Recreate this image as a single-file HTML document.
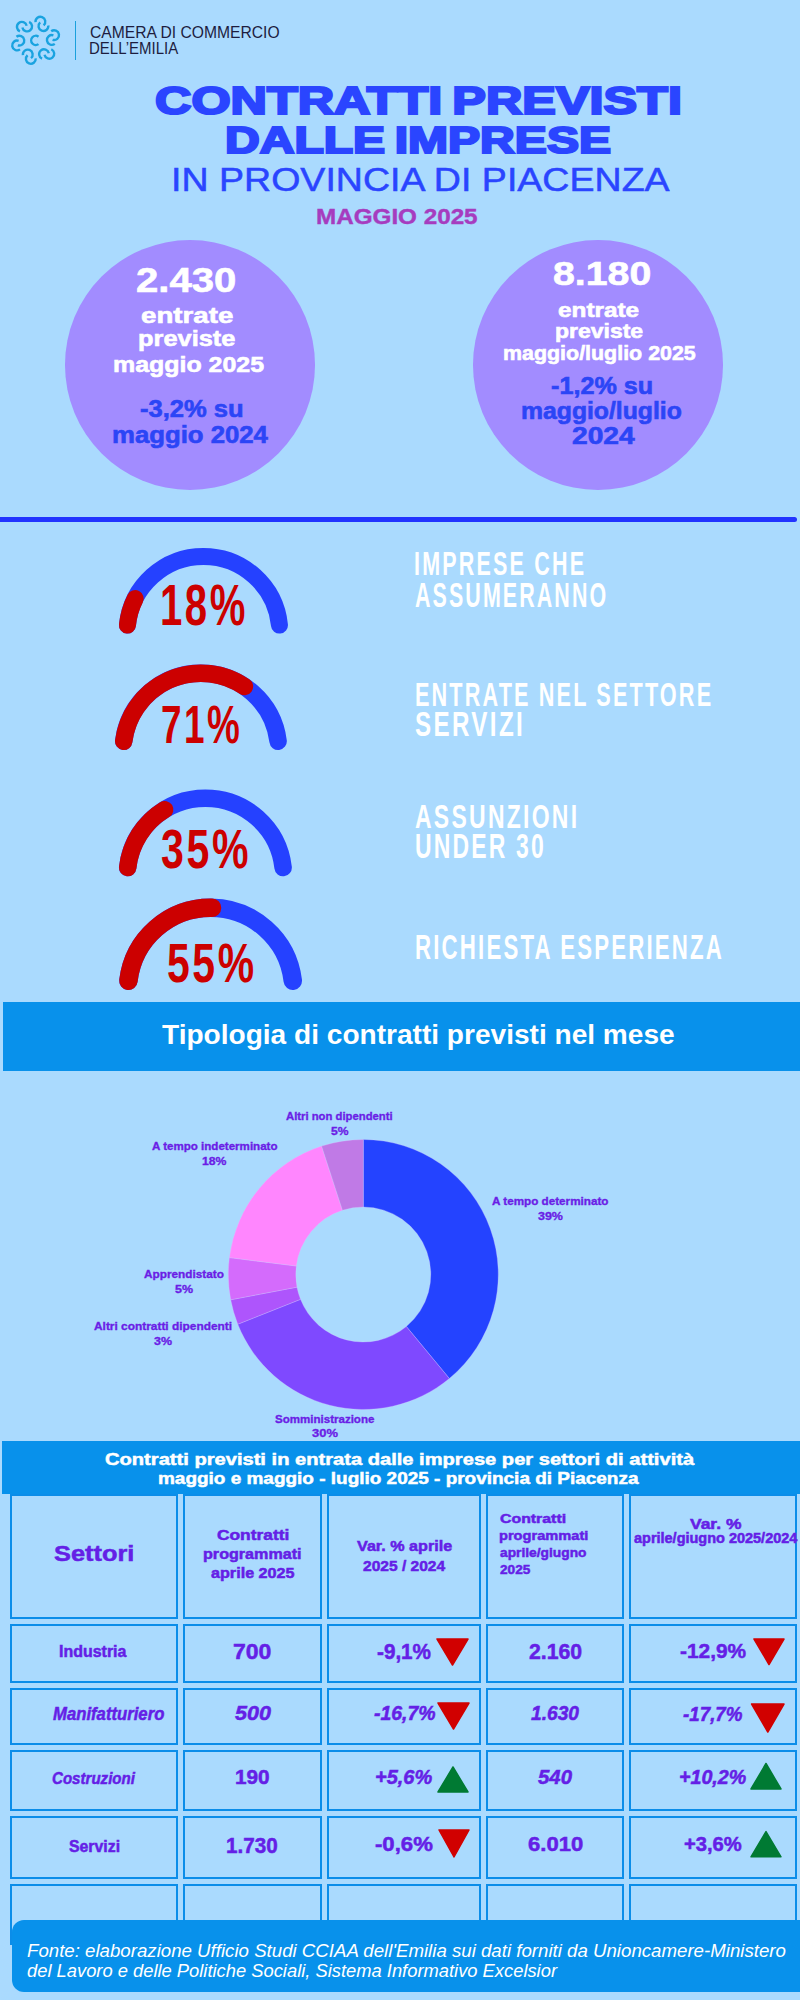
<!DOCTYPE html><html><head><meta charset="utf-8"><style>
html,body{margin:0;padding:0;}
body{width:800px;height:2000px;position:relative;overflow:hidden;background:#aadafe;font-family:"Liberation Sans",sans-serif;}
.t{position:absolute;white-space:nowrap;transform-origin:0 0;}
.a{position:absolute;}
</style></head><body><div class="t" style="left:89.72px;top:25.00px;font-size:15.94px;line-height:15.94px;font-weight:400;color:#1d1d3f;transform:scaleX(0.9820);">CAMERA DI COMMERCIO</div>
<div class="t" style="left:89.30px;top:40.00px;font-size:17.10px;line-height:17.10px;font-weight:400;color:#1d1d3f;transform:scaleX(0.8774);">DELL’EMILIA</div>
<div class="a" style="left:74.5px;top:20.5px;width:1.2px;height:39.5px;background:#1aa0dc"></div>
<svg class="a" style="left:0;top:0" width="80" height="80" viewBox="0 0 80 80"><path d="M38.50,44.12 A4.6,4.6 0 1 1 38.50,36.68" fill="none" stroke="#1aa3e0" stroke-width="2.4"/><g transform="translate(35.6,40.3) rotate(231) translate(17.6,0)"><path d="M-0.76,-6.55 A4.9,4.9 0 1 1 -0.76,2.15" fill="none" stroke="#1aa3e0" stroke-width="2.4"/><path d="M0.76,6.55 A4.9,4.9 0 1 1 0.76,-2.15" fill="none" stroke="#1aa3e0" stroke-width="2.4"/></g><g transform="translate(35.6,40.3) rotate(291) translate(17.6,0)"><path d="M-0.76,-6.55 A4.9,4.9 0 1 1 -0.76,2.15" fill="none" stroke="#1aa3e0" stroke-width="2.4"/><path d="M0.76,6.55 A4.9,4.9 0 1 1 0.76,-2.15" fill="none" stroke="#1aa3e0" stroke-width="2.4"/></g><g transform="translate(35.6,40.3) rotate(351) translate(17.6,0)"><path d="M-0.76,-6.55 A4.9,4.9 0 1 1 -0.76,2.15" fill="none" stroke="#1aa3e0" stroke-width="2.4"/><path d="M0.76,6.55 A4.9,4.9 0 1 1 0.76,-2.15" fill="none" stroke="#1aa3e0" stroke-width="2.4"/></g><g transform="translate(35.6,40.3) rotate(411) translate(17.6,0)"><path d="M-0.76,-6.55 A4.9,4.9 0 1 1 -0.76,2.15" fill="none" stroke="#1aa3e0" stroke-width="2.4"/><path d="M0.76,6.55 A4.9,4.9 0 1 1 0.76,-2.15" fill="none" stroke="#1aa3e0" stroke-width="2.4"/></g><g transform="translate(35.6,40.3) rotate(471) translate(17.6,0)"><path d="M-0.76,-6.55 A4.9,4.9 0 1 1 -0.76,2.15" fill="none" stroke="#1aa3e0" stroke-width="2.4"/><path d="M0.76,6.55 A4.9,4.9 0 1 1 0.76,-2.15" fill="none" stroke="#1aa3e0" stroke-width="2.4"/></g><g transform="translate(35.6,40.3) rotate(531) translate(17.6,0)"><path d="M-0.76,-6.55 A4.9,4.9 0 1 1 -0.76,2.15" fill="none" stroke="#1aa3e0" stroke-width="2.4"/><path d="M0.76,6.55 A4.9,4.9 0 1 1 0.76,-2.15" fill="none" stroke="#1aa3e0" stroke-width="2.4"/></g></svg>
<div class="t" style="left:154.91px;top:82.00px;font-size:38.84px;line-height:38.84px;font-weight:700;color:#2a45ff;transform:scaleX(1.2973);word-spacing:-3px;-webkit-text-stroke:2.2px #2a45ff;">CONTRATTI PREVISTI</div>
<div class="t" style="left:224.78px;top:122.00px;font-size:37.68px;line-height:37.68px;font-weight:700;color:#2a45ff;transform:scaleX(1.2756);word-spacing:-3px;-webkit-text-stroke:2.2px #2a45ff;">DALLE IMPRESE</div>
<div class="t" style="left:170.90px;top:163.00px;font-size:33.62px;line-height:33.62px;font-weight:400;color:#2a45ff;transform:scaleX(1.1171);-webkit-text-stroke:0.5px #2a45ff;">IN PROVINCIA DI PIACENZA</div>
<div class="t" style="left:315.65px;top:206.00px;font-size:21.59px;line-height:21.59px;font-weight:700;color:#a63cbf;transform:scaleX(1.1229);-webkit-text-stroke:0.4px #a63cbf;">MAGGIO 2025</div>
<div class="a" style="left:64.5px;top:240.3px;width:250px;height:249.5px;border-radius:50%;background:#a28cff"></div>
<div class="a" style="left:473.3px;top:240.3px;width:249.8px;height:249.5px;border-radius:50%;background:#a28cff"></div>
<div class="t" style="left:135.74px;top:263.00px;font-size:34.57px;line-height:34.57px;font-weight:700;color:#ffffff;transform:scaleX(1.1606);-webkit-text-stroke:0.6px #ffffff;">2.430</div>
<div class="t" style="left:140.97px;top:305.00px;font-size:22.00px;line-height:22.00px;font-weight:700;color:#ffffff;transform:scaleX(1.2583);-webkit-text-stroke:0.6px #ffffff;">entrate</div>
<div class="t" style="left:137.95px;top:328.00px;font-size:22.00px;line-height:22.00px;font-weight:700;color:#ffffff;transform:scaleX(1.1544);-webkit-text-stroke:0.6px #ffffff;">previste</div>
<div class="t" style="left:113.47px;top:354.00px;font-size:22.00px;line-height:22.00px;font-weight:700;color:#ffffff;transform:scaleX(1.1337);-webkit-text-stroke:0.6px #ffffff;">maggio 2025</div>
<div class="t" style="left:139.61px;top:398.00px;font-size:23.00px;line-height:23.00px;font-weight:700;color:#2b45f6;transform:scaleX(1.1099);-webkit-text-stroke:0.6px #2b45f6;">-3,2% su</div>
<div class="t" style="left:111.66px;top:424.00px;font-size:23.00px;line-height:23.00px;font-weight:700;color:#2b45f6;transform:scaleX(1.1189);-webkit-text-stroke:0.6px #2b45f6;">maggio 2024</div>
<div class="t" style="left:552.98px;top:257.00px;font-size:33.00px;line-height:33.00px;font-weight:700;color:#ffffff;transform:scaleX(1.1907);-webkit-text-stroke:0.6px #ffffff;">8.180</div>
<div class="t" style="left:558.39px;top:300.00px;font-size:20.00px;line-height:20.00px;font-weight:700;color:#ffffff;transform:scaleX(1.2158);-webkit-text-stroke:0.6px #ffffff;">entrate</div>
<div class="t" style="left:555.10px;top:321.00px;font-size:20.00px;line-height:20.00px;font-weight:700;color:#ffffff;transform:scaleX(1.1481);-webkit-text-stroke:0.6px #ffffff;">previste</div>
<div class="t" style="left:502.68px;top:343.00px;font-size:20.00px;line-height:20.00px;font-weight:700;color:#ffffff;transform:scaleX(1.0707);-webkit-text-stroke:0.6px #ffffff;">maggio/luglio 2025</div>
<div class="t" style="left:551.02px;top:375.00px;font-size:23.00px;line-height:23.00px;font-weight:700;color:#2b45f6;transform:scaleX(1.0946);-webkit-text-stroke:0.6px #2b45f6;">-1,2% su</div>
<div class="t" style="left:521.01px;top:400.00px;font-size:23.00px;line-height:23.00px;font-weight:700;color:#2b45f6;transform:scaleX(1.0759);-webkit-text-stroke:0.6px #2b45f6;">maggio/luglio</div>
<div class="t" style="left:572.08px;top:425.00px;font-size:23.00px;line-height:23.00px;font-weight:700;color:#2b45f6;transform:scaleX(1.2251);-webkit-text-stroke:0.6px #2b45f6;">2024</div>
<div class="a" style="left:-5px;top:517px;width:802px;height:5px;border-radius:2.5px;background:#2233ff"></div>
<div class="a" style="left:0;top:0;width:800px;height:2000px">
<svg class="a" style="left:0;top:0;overflow:visible" width="1" height="1"><path d="M127.45,625.05 A76.4,76.4 0 0 1 279.45,625.05" fill="none" stroke="#2541ff" stroke-width="17" stroke-linecap="round"/><path d="M127.45,625.05 A76.4,76.4 0 0 1 135.20,598.57" fill="none" stroke="#cc0000" stroke-width="17" stroke-linecap="round"/></svg>
<svg class="a" style="left:0;top:0;overflow:visible" width="1" height="1"><path d="M123.71,741.25 A77.8,77.8 0 0 1 278.09,741.25" fill="none" stroke="#2541ff" stroke-width="17.5" stroke-linecap="round"/><path d="M123.71,741.25 A77.8,77.8 0 0 1 244.41,686.50" fill="none" stroke="#cc0000" stroke-width="17.5" stroke-linecap="round"/></svg>
<svg class="a" style="left:0;top:0;overflow:visible" width="1" height="1"><path d="M127.70,867.55 A78.2,78.2 0 0 1 283.10,867.55" fill="none" stroke="#2541ff" stroke-width="17.5" stroke-linecap="round"/><path d="M127.70,867.55 A78.2,78.2 0 0 1 164.66,809.65" fill="none" stroke="#cc0000" stroke-width="17.5" stroke-linecap="round"/></svg>
<svg class="a" style="left:0;top:0;overflow:visible" width="1" height="1"><path d="M128.43,980.70 A82.75,82.75 0 0 1 292.77,980.70" fill="none" stroke="#2541ff" stroke-width="18.5" stroke-linecap="round"/><path d="M128.43,980.70 A82.75,82.75 0 0 1 212.04,907.76" fill="none" stroke="#cc0000" stroke-width="18.5" stroke-linecap="round"/></svg>
</div>
<div class="t" style="left:159.50px;top:578.00px;font-size:56.52px;line-height:56.52px;font-weight:700;color:#cc0000;transform:scaleX(0.7090);letter-spacing:3.6px;">18%</div>
<div class="t" style="left:161.28px;top:697.00px;font-size:54.20px;line-height:54.20px;font-weight:700;color:#cc0000;transform:scaleX(0.6803);letter-spacing:3.6px;">71%</div>
<div class="t" style="left:160.97px;top:822.00px;font-size:55.14px;line-height:55.14px;font-weight:700;color:#cc0000;transform:scaleX(0.7452);letter-spacing:3.6px;">35%</div>
<div class="t" style="left:166.97px;top:935.00px;font-size:56.09px;line-height:56.09px;font-weight:700;color:#cc0000;transform:scaleX(0.7292);letter-spacing:3.6px;">55%</div>
<div class="t" style="left:413.60px;top:547.00px;font-size:33.04px;line-height:33.04px;font-weight:700;color:#ffffff;transform:scaleX(0.6502);letter-spacing:3.4px;">IMPRESE CHE</div>
<div class="t" style="left:415.46px;top:577.00px;font-size:35.07px;line-height:35.07px;font-weight:700;color:#ffffff;transform:scaleX(0.6115);letter-spacing:3.4px;">ASSUMERANNO</div>
<div class="t" style="left:414.59px;top:677.00px;font-size:34.06px;line-height:34.06px;font-weight:700;color:#ffffff;transform:scaleX(0.6353);letter-spacing:3.4px;">ENTRATE NEL SETTORE</div>
<div class="t" style="left:415.27px;top:707.00px;font-size:34.78px;line-height:34.78px;font-weight:700;color:#ffffff;transform:scaleX(0.6954);letter-spacing:3.4px;">SERVIZI</div>
<div class="t" style="left:415.43px;top:799.00px;font-size:34.06px;line-height:34.06px;font-weight:700;color:#ffffff;transform:scaleX(0.6737);letter-spacing:3.4px;">ASSUNZIONI</div>
<div class="t" style="left:414.62px;top:829.00px;font-size:35.51px;line-height:35.51px;font-weight:700;color:#ffffff;transform:scaleX(0.6460);letter-spacing:3.4px;">UNDER 30</div>
<div class="t" style="left:414.55px;top:930.00px;font-size:34.78px;line-height:34.78px;font-weight:700;color:#ffffff;transform:scaleX(0.6395);letter-spacing:3.4px;">RICHIESTA ESPERIENZA</div>
<div class="a" style="left:2.5px;top:1002px;width:797.5px;height:69px;background:#0891eb"></div>
<div class="t" style="left:162.22px;top:1020.00px;font-size:28.26px;line-height:28.26px;font-weight:700;color:#ffffff;transform:scaleX(0.9936);">Tipologia di contratti previsti nel mese</div>
<div class="a" style="left:0;top:0;width:800px;height:2000px">
<svg class="a" style="left:0;top:0;overflow:visible" width="1" height="1"><path d="M363.30,1139.50 A135,135 0 0 1 449.35,1378.52 L406.33,1326.51 A67.5,67.5 0 0 0 363.30,1207.00Z" fill="#2443ff" stroke="#d8c8ff" stroke-width="0.3"/><path d="M449.35,1378.52 A135,135 0 0 1 237.78,1324.20 L300.54,1299.35 A67.5,67.5 0 0 0 406.33,1326.51Z" fill="#7f49ff" stroke="#d8c8ff" stroke-width="0.3"/><path d="M237.78,1324.20 A135,135 0 0 1 230.69,1299.80 L297.00,1287.15 A67.5,67.5 0 0 0 300.54,1299.35Z" fill="#ae55fc" stroke="#d8c8ff" stroke-width="0.3"/><path d="M230.69,1299.80 A135,135 0 0 1 229.36,1257.58 L296.33,1266.04 A67.5,67.5 0 0 0 297.00,1287.15Z" fill="#d46bfc" stroke="#d8c8ff" stroke-width="0.3"/><path d="M229.36,1257.58 A135,135 0 0 1 321.58,1146.11 L342.44,1210.30 A67.5,67.5 0 0 0 296.33,1266.04Z" fill="#ff86fe" stroke="#d8c8ff" stroke-width="0.3"/><path d="M321.58,1146.11 A135,135 0 0 1 363.30,1139.50 L363.30,1207.00 A67.5,67.5 0 0 0 342.44,1210.30Z" fill="#c07ae6" stroke="#d8c8ff" stroke-width="0.3"/></svg>
</div>
<div class="t" style="left:285.89px;top:1111.00px;font-size:11.20px;line-height:11.20px;font-weight:700;color:#6a1ee6;transform:scaleX(1.0089);-webkit-text-stroke:0.35px #6a1ee6;">Altri non dipendenti</div>
<div class="t" style="left:330.63px;top:1126.00px;font-size:11.20px;line-height:11.20px;font-weight:700;color:#6a1ee6;transform:scaleX(1.0805);-webkit-text-stroke:0.35px #6a1ee6;">5%</div>
<div class="t" style="left:152.14px;top:1141.00px;font-size:11.20px;line-height:11.20px;font-weight:700;color:#6a1ee6;transform:scaleX(1.0339);-webkit-text-stroke:0.35px #6a1ee6;">A tempo indeterminato</div>
<div class="t" style="left:202.46px;top:1156.00px;font-size:11.20px;line-height:11.20px;font-weight:700;color:#6a1ee6;transform:scaleX(1.0918);-webkit-text-stroke:0.35px #6a1ee6;">18%</div>
<div class="t" style="left:491.64px;top:1196.00px;font-size:11.20px;line-height:11.20px;font-weight:700;color:#6a1ee6;transform:scaleX(1.0451);-webkit-text-stroke:0.35px #6a1ee6;">A tempo determinato</div>
<div class="t" style="left:537.58px;top:1211.00px;font-size:11.20px;line-height:11.20px;font-weight:700;color:#6a1ee6;transform:scaleX(1.1131);-webkit-text-stroke:0.35px #6a1ee6;">39%</div>
<div class="t" style="left:143.89px;top:1269.00px;font-size:11.20px;line-height:11.20px;font-weight:700;color:#6a1ee6;transform:scaleX(1.0530);-webkit-text-stroke:0.35px #6a1ee6;">Apprendistato</div>
<div class="t" style="left:174.82px;top:1284.00px;font-size:11.20px;line-height:11.20px;font-weight:700;color:#6a1ee6;transform:scaleX(1.1119);-webkit-text-stroke:0.35px #6a1ee6;">5%</div>
<div class="t" style="left:93.89px;top:1321.00px;font-size:11.20px;line-height:11.20px;font-weight:700;color:#6a1ee6;transform:scaleX(1.0628);-webkit-text-stroke:0.35px #6a1ee6;">Altri contratti dipendenti</div>
<div class="t" style="left:153.88px;top:1336.00px;font-size:11.20px;line-height:11.20px;font-weight:700;color:#6a1ee6;transform:scaleX(1.1081);-webkit-text-stroke:0.35px #6a1ee6;">3%</div>
<div class="t" style="left:274.68px;top:1414.00px;font-size:11.20px;line-height:11.20px;font-weight:700;color:#6a1ee6;transform:scaleX(1.0312);-webkit-text-stroke:0.35px #6a1ee6;">Somministrazione</div>
<div class="t" style="left:311.63px;top:1428.00px;font-size:11.20px;line-height:11.20px;font-weight:700;color:#6a1ee6;transform:scaleX(1.1559);-webkit-text-stroke:0.35px #6a1ee6;">30%</div>
<div class="a" style="left:2px;top:1441px;width:798px;height:53px;background:#0891eb"></div>
<div class="t" style="left:105.49px;top:1451.00px;font-size:17.00px;line-height:17.00px;font-weight:700;color:#ffffff;transform:scaleX(1.1833);-webkit-text-stroke:0.5px #ffffff;">Contratti previsti in entrata dalle imprese per settori di attività</div>
<div class="t" style="left:158.05px;top:1470.00px;font-size:17.00px;line-height:17.00px;font-weight:700;color:#ffffff;transform:scaleX(1.1154);-webkit-text-stroke:0.5px #ffffff;">maggio e maggio - luglio 2025 - provincia di Piacenza</div>
<div class="a" style="left:10px;top:1494px;width:164px;height:121px;border:2px solid #0b8de9"></div>
<div class="a" style="left:183px;top:1494px;width:135px;height:121px;border:2px solid #0b8de9"></div>
<div class="a" style="left:327px;top:1494px;width:150px;height:121px;border:2px solid #0b8de9"></div>
<div class="a" style="left:486px;top:1494px;width:134px;height:121px;border:2px solid #0b8de9"></div>
<div class="a" style="left:629px;top:1494px;width:164px;height:121px;border:2px solid #0b8de9"></div>
<div class="a" style="left:10px;top:1624px;width:164px;height:55px;border:2px solid #0b8de9"></div>
<div class="a" style="left:183px;top:1624px;width:135px;height:55px;border:2px solid #0b8de9"></div>
<div class="a" style="left:327px;top:1624px;width:150px;height:55px;border:2px solid #0b8de9"></div>
<div class="a" style="left:486px;top:1624px;width:134px;height:55px;border:2px solid #0b8de9"></div>
<div class="a" style="left:629px;top:1624px;width:164px;height:55px;border:2px solid #0b8de9"></div>
<div class="a" style="left:10px;top:1688px;width:164px;height:53px;border:2px solid #0b8de9"></div>
<div class="a" style="left:183px;top:1688px;width:135px;height:53px;border:2px solid #0b8de9"></div>
<div class="a" style="left:327px;top:1688px;width:150px;height:53px;border:2px solid #0b8de9"></div>
<div class="a" style="left:486px;top:1688px;width:134px;height:53px;border:2px solid #0b8de9"></div>
<div class="a" style="left:629px;top:1688px;width:164px;height:53px;border:2px solid #0b8de9"></div>
<div class="a" style="left:10px;top:1750px;width:164px;height:57px;border:2px solid #0b8de9"></div>
<div class="a" style="left:183px;top:1750px;width:135px;height:57px;border:2px solid #0b8de9"></div>
<div class="a" style="left:327px;top:1750px;width:150px;height:57px;border:2px solid #0b8de9"></div>
<div class="a" style="left:486px;top:1750px;width:134px;height:57px;border:2px solid #0b8de9"></div>
<div class="a" style="left:629px;top:1750px;width:164px;height:57px;border:2px solid #0b8de9"></div>
<div class="a" style="left:10px;top:1816px;width:164px;height:59px;border:2px solid #0b8de9"></div>
<div class="a" style="left:183px;top:1816px;width:135px;height:59px;border:2px solid #0b8de9"></div>
<div class="a" style="left:327px;top:1816px;width:150px;height:59px;border:2px solid #0b8de9"></div>
<div class="a" style="left:486px;top:1816px;width:134px;height:59px;border:2px solid #0b8de9"></div>
<div class="a" style="left:629px;top:1816px;width:164px;height:59px;border:2px solid #0b8de9"></div>
<div class="a" style="left:10px;top:1884px;width:164px;height:57px;border:2px solid #0b8de9"></div>
<div class="a" style="left:183px;top:1884px;width:135px;height:57px;border:2px solid #0b8de9"></div>
<div class="a" style="left:327px;top:1884px;width:150px;height:57px;border:2px solid #0b8de9"></div>
<div class="a" style="left:486px;top:1884px;width:134px;height:57px;border:2px solid #0b8de9"></div>
<div class="a" style="left:629px;top:1884px;width:164px;height:57px;border:2px solid #0b8de9"></div>
<div class="t" style="left:54.32px;top:1542.00px;font-size:22.86px;line-height:22.86px;font-weight:700;color:#6420e6;transform:scaleX(1.1094);-webkit-text-stroke:0.5px #6420e6;">Settori</div>
<div class="t" style="left:216.60px;top:1527.00px;font-size:15.00px;line-height:15.00px;font-weight:700;color:#6420e6;transform:scaleX(1.1564);-webkit-text-stroke:0.5px #6420e6;">Contratti</div>
<div class="t" style="left:203.22px;top:1546.00px;font-size:15.00px;line-height:15.00px;font-weight:700;color:#6420e6;transform:scaleX(1.0754);-webkit-text-stroke:0.5px #6420e6;">programmati</div>
<div class="t" style="left:210.58px;top:1565.00px;font-size:15.00px;line-height:15.00px;font-weight:700;color:#6420e6;transform:scaleX(1.0774);-webkit-text-stroke:0.5px #6420e6;">aprile 2025</div>
<div class="t" style="left:357.19px;top:1538.00px;font-size:15.00px;line-height:15.00px;font-weight:700;color:#6420e6;transform:scaleX(1.0765);-webkit-text-stroke:0.5px #6420e6;">Var. % aprile</div>
<div class="t" style="left:362.71px;top:1558.00px;font-size:15.00px;line-height:15.00px;font-weight:700;color:#6420e6;transform:scaleX(1.0367);-webkit-text-stroke:0.5px #6420e6;">2025 / 2024</div>
<div class="t" style="left:499.66px;top:1512.00px;font-size:13.50px;line-height:13.50px;font-weight:700;color:#6420e6;transform:scaleX(1.1752);-webkit-text-stroke:0.5px #6420e6;">Contratti</div>
<div class="t" style="left:499.32px;top:1529.00px;font-size:13.50px;line-height:13.50px;font-weight:700;color:#6420e6;transform:scaleX(1.0833);-webkit-text-stroke:0.5px #6420e6;">programmati</div>
<div class="t" style="left:499.84px;top:1546.00px;font-size:13.50px;line-height:13.50px;font-weight:700;color:#6420e6;transform:scaleX(1.0206);-webkit-text-stroke:0.5px #6420e6;">aprile/giugno</div>
<div class="t" style="left:499.78px;top:1563.00px;font-size:13.50px;line-height:13.50px;font-weight:700;color:#6420e6;transform:scaleX(1.0092);-webkit-text-stroke:0.5px #6420e6;">2025</div>
<div class="t" style="left:690.20px;top:1516.00px;font-size:15.00px;line-height:15.00px;font-weight:700;color:#6420e6;transform:scaleX(1.1625);-webkit-text-stroke:0.5px #6420e6;">Var. %</div>
<div class="t" style="left:633.82px;top:1531.00px;font-size:14.00px;line-height:14.00px;font-weight:700;color:#6420e6;transform:scaleX(1.0340);-webkit-text-stroke:0.5px #6420e6;">aprile/giugno 2025/2024</div>
<div class="t" style="left:59.20px;top:1644.00px;font-size:16.67px;line-height:16.67px;font-weight:700;color:#6420e6;transform:scaleX(0.9583);-webkit-text-stroke:0.5px #6420e6;">Industria</div>
<div class="t" style="left:233.34px;top:1641.00px;font-size:21.74px;line-height:21.74px;font-weight:700;color:#6420e6;transform:scaleX(1.0585);-webkit-text-stroke:0.5px #6420e6;">700</div>
<div class="t" style="left:377.21px;top:1642.00px;font-size:21.43px;line-height:21.43px;font-weight:700;color:#6420e6;transform:scaleX(0.9648);-webkit-text-stroke:0.5px #6420e6;">-9,1%</div>
<div class="t" style="left:528.50px;top:1642.00px;font-size:21.43px;line-height:21.43px;font-weight:700;color:#6420e6;transform:scaleX(0.9912);-webkit-text-stroke:0.5px #6420e6;">2.160</div>
<div class="t" style="left:679.71px;top:1640.00px;font-size:21.01px;line-height:21.01px;font-weight:700;color:#6420e6;transform:scaleX(0.9932);-webkit-text-stroke:0.5px #6420e6;">-12,9%</div>
<div class="t" style="left:52.89px;top:1705.00px;font-size:18.84px;line-height:18.84px;font-weight:700;font-style:italic;color:#6420e6;transform:scaleX(0.8871);-webkit-text-stroke:0.5px #6420e6;">Manifatturiero</div>
<div class="t" style="left:235.05px;top:1703.00px;font-size:20.29px;line-height:20.29px;font-weight:700;font-style:italic;color:#6420e6;transform:scaleX(1.0627);-webkit-text-stroke:0.5px #6420e6;">500</div>
<div class="t" style="left:373.66px;top:1703.00px;font-size:20.29px;line-height:20.29px;font-weight:700;font-style:italic;color:#6420e6;transform:scaleX(0.9591);-webkit-text-stroke:0.5px #6420e6;">-16,7%</div>
<div class="t" style="left:530.95px;top:1703.00px;font-size:20.29px;line-height:20.29px;font-weight:700;font-style:italic;color:#6420e6;transform:scaleX(0.9464);-webkit-text-stroke:0.5px #6420e6;">1.630</div>
<div class="t" style="left:683.37px;top:1704.00px;font-size:20.29px;line-height:20.29px;font-weight:700;font-style:italic;color:#6420e6;transform:scaleX(0.9261);-webkit-text-stroke:0.5px #6420e6;">-17,7%</div>
<div class="t" style="left:52.46px;top:1770.00px;font-size:17.14px;line-height:17.14px;font-weight:700;font-style:italic;color:#6420e6;transform:scaleX(0.8812);-webkit-text-stroke:0.5px #6420e6;">Costruzioni</div>
<div class="t" style="left:235.01px;top:1767.00px;font-size:20.29px;line-height:20.29px;font-weight:700;color:#6420e6;transform:scaleX(1.0231);-webkit-text-stroke:0.5px #6420e6;">190</div>
<div class="t" style="left:375.05px;top:1767.00px;font-size:20.29px;line-height:20.29px;font-weight:700;font-style:italic;color:#6420e6;transform:scaleX(0.9858);-webkit-text-stroke:0.5px #6420e6;">+5,6%</div>
<div class="t" style="left:538.05px;top:1767.00px;font-size:20.29px;line-height:20.29px;font-weight:700;font-style:italic;color:#6420e6;transform:scaleX(1.0036);-webkit-text-stroke:0.5px #6420e6;">540</div>
<div class="t" style="left:679.06px;top:1767.00px;font-size:20.29px;line-height:20.29px;font-weight:700;font-style:italic;color:#6420e6;transform:scaleX(0.9697);-webkit-text-stroke:0.5px #6420e6;">+10,2%</div>
<div class="t" style="left:68.76px;top:1838.00px;font-size:17.14px;line-height:17.14px;font-weight:700;color:#6420e6;transform:scaleX(0.9247);-webkit-text-stroke:0.5px #6420e6;">Servizi</div>
<div class="t" style="left:226.00px;top:1835.00px;font-size:21.74px;line-height:21.74px;font-weight:700;color:#6420e6;transform:scaleX(0.9492);-webkit-text-stroke:0.5px #6420e6;">1.730</div>
<div class="t" style="left:375.39px;top:1834.00px;font-size:20.00px;line-height:20.00px;font-weight:700;color:#6420e6;transform:scaleX(1.1068);-webkit-text-stroke:0.5px #6420e6;">-0,6%</div>
<div class="t" style="left:527.50px;top:1834.00px;font-size:20.00px;line-height:20.00px;font-weight:700;color:#6420e6;transform:scaleX(1.1020);-webkit-text-stroke:0.5px #6420e6;">6.010</div>
<div class="t" style="left:684.45px;top:1834.00px;font-size:20.00px;line-height:20.00px;font-weight:700;color:#6420e6;transform:scaleX(1.0088);-webkit-text-stroke:0.5px #6420e6;">+3,6%</div>
<svg class="a" style="left:0;top:0" width="800" height="2000">
<path d="M437,1639 L468,1639 L452.5,1665 Z" fill="#d10000" stroke="#d10000" stroke-width="1.5" stroke-linejoin="round"/>
<path d="M754,1639 L784,1639 L769.0,1664.5 Z" fill="#d10000" stroke="#d10000" stroke-width="1.5" stroke-linejoin="round"/>
<path d="M438,1703 L469,1703 L453.5,1729 Z" fill="#d10000" stroke="#d10000" stroke-width="1.5" stroke-linejoin="round"/>
<path d="M751.6,1704 L784,1704 L767.8,1732 Z" fill="#d10000" stroke="#d10000" stroke-width="1.5" stroke-linejoin="round"/>
<path d="M438,1792 L468,1792 L453.0,1767 Z" fill="#007a33" stroke="#007a33" stroke-width="1.5" stroke-linejoin="round"/>
<path d="M751,1789 L781,1789 L766.0,1763.5 Z" fill="#007a33" stroke="#007a33" stroke-width="1.5" stroke-linejoin="round"/>
<path d="M439,1830 L469,1830 L454.0,1857 Z" fill="#d10000" stroke="#d10000" stroke-width="1.5" stroke-linejoin="round"/>
<path d="M751,1856.8 L781,1856.8 L766.0,1831.6 Z" fill="#007a33" stroke="#007a33" stroke-width="1.5" stroke-linejoin="round"/>
</svg>
<div class="a" style="left:12px;top:1920px;width:800px;height:71.5px;border-radius:12px;background:#0891eb"></div>
<div class="t" style="left:27.19px;top:1942.00px;font-size:18.84px;line-height:18.84px;font-weight:400;font-style:italic;color:#ffffff;transform:scaleX(0.9910);">Fonte: elaborazione Ufficio Studi CCIAA dell'Emilia sui dati forniti da Unioncamere-Ministero</div>
<div class="t" style="left:27.11px;top:1963.00px;font-size:17.93px;line-height:17.93px;font-weight:400;font-style:italic;color:#ffffff;transform:scaleX(1.0232);">del Lavoro e delle Politiche Sociali, Sistema Informativo Excelsior</div></body></html>
